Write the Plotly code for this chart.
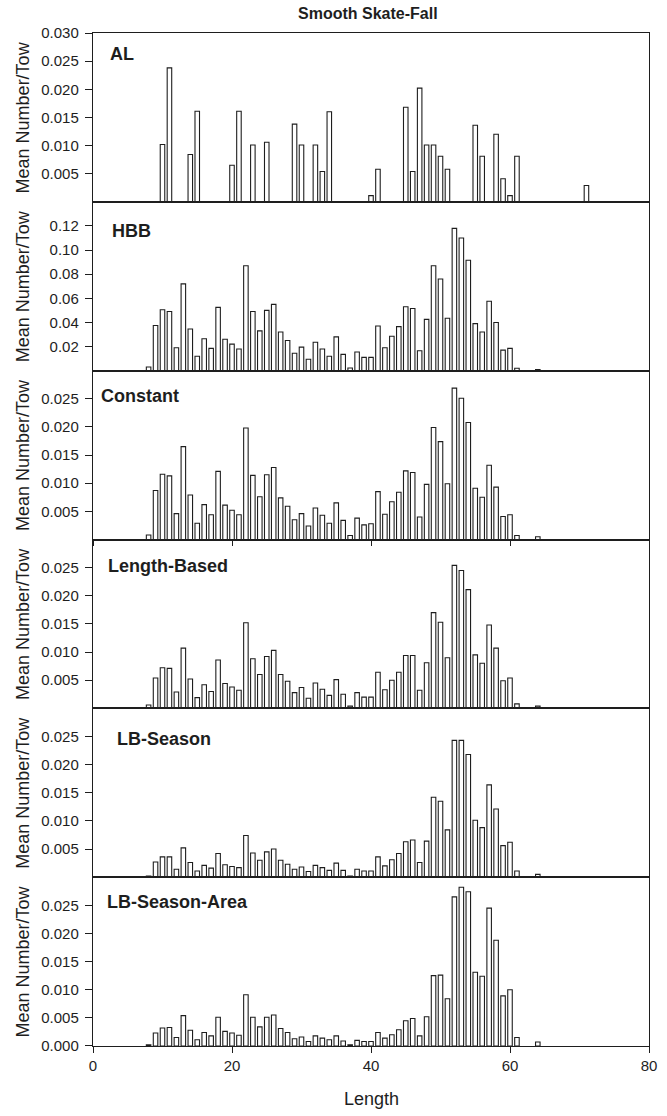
import plotly.graph_objects as go

# ---------------- data ----------------
al_lengths = [10, 11, 14, 15, 20, 21, 23, 25, 29, 30, 32, 33, 34, 40, 41, 45, 46, 47,
              48, 49, 50, 51, 55, 56, 58, 59, 60, 61, 71]
al_values = [0.0102, 0.0238, 0.0084, 0.0161, 0.0065, 0.0161, 0.0101, 0.0106, 0.0138,
             0.0101, 0.0101, 0.0054, 0.0160, 0.0011, 0.0058, 0.0168, 0.0054, 0.0202,
             0.0101, 0.0101, 0.0081, 0.0058, 0.0136, 0.0081, 0.0120, 0.0041, 0.0011,
             0.0081, 0.0029]

lengths = list(range(8, 62)) + [64]

hbb = [0.003, 0.0375, 0.0505, 0.049, 0.019, 0.072, 0.0345, 0.012, 0.0265, 0.0185,
       0.0525, 0.026, 0.022, 0.018, 0.087, 0.049, 0.033, 0.050, 0.055, 0.032,
       0.025, 0.0145, 0.0195, 0.0095, 0.0235, 0.018, 0.012, 0.028, 0.0135, 0.0022,
       0.0155, 0.011, 0.011, 0.037, 0.019, 0.0285, 0.0365, 0.053, 0.0515, 0.0165,
       0.0425, 0.087, 0.076, 0.0435, 0.118, 0.110, 0.0915, 0.039, 0.032, 0.0575,
       0.040, 0.017, 0.0185, 0.002,
       0.001]

constant = [0.0008, 0.0087, 0.0116, 0.0113, 0.0046, 0.0165, 0.0079, 0.0029, 0.0062, 0.0044,
            0.0121, 0.0061, 0.0052, 0.0044, 0.0198, 0.0114, 0.0076, 0.0115, 0.0128, 0.0074,
            0.0059, 0.0035, 0.0046, 0.0024, 0.0056, 0.0043, 0.0029, 0.0065, 0.0034, 0.0007,
            0.0038, 0.0026, 0.0028, 0.0085, 0.0045, 0.0067, 0.0084, 0.0122, 0.0119, 0.0040,
            0.0098, 0.0199, 0.0174, 0.0099, 0.0269, 0.0251, 0.0208, 0.0091, 0.0075, 0.0132,
            0.0093, 0.0041, 0.0044, 0.0007,
            0.0005]

length_based = [0.0006, 0.0054, 0.0072, 0.0071, 0.0029, 0.0107, 0.0052, 0.0019, 0.0042, 0.0030,
                0.0086, 0.0044, 0.0038, 0.0032, 0.0152, 0.0088, 0.0060, 0.0092, 0.0103, 0.0060,
                0.0048, 0.0028, 0.0037, 0.0018, 0.0045, 0.0034, 0.0023, 0.0051, 0.0025, 0.0004,
                0.0028, 0.0020, 0.0020, 0.0064, 0.0033, 0.0050, 0.0064, 0.0094, 0.0094, 0.0032,
                0.0081, 0.0170, 0.0153, 0.0090, 0.0254, 0.0245, 0.0211, 0.0095, 0.0080, 0.0148,
                0.0107, 0.0049, 0.0054, 0.0008,
                0.0004]

lb_season = [0.0002, 0.0027, 0.0036, 0.0036, 0.0014, 0.0052, 0.0026, 0.0011, 0.0021, 0.0016,
             0.0042, 0.0022, 0.0019, 0.0017, 0.0074, 0.0043, 0.0030, 0.0045, 0.0050, 0.0030,
             0.0023, 0.0014, 0.0018, 0.0010, 0.0021, 0.0017, 0.0012, 0.0025, 0.0012, 0.0002,
             0.0014, 0.0011, 0.0011, 0.0036, 0.0020, 0.0031, 0.0042, 0.0063, 0.0066, 0.0026,
             0.0064, 0.0142, 0.0135, 0.0084, 0.0243, 0.0243, 0.0218, 0.0101, 0.0088, 0.0164,
             0.0121, 0.0056, 0.0062, 0.0011,
             0.0005]

lb_season_area = [0.0002, 0.0023, 0.0032, 0.0033, 0.0015, 0.0054, 0.0028, 0.0011, 0.0024, 0.0018,
                  0.0051, 0.0026, 0.0023, 0.0019, 0.0091, 0.0051, 0.0034, 0.0051, 0.0055, 0.0031,
                  0.0024, 0.0013, 0.0016, 0.0008, 0.0018, 0.0014, 0.0011, 0.0018, 0.0009, 0.0002,
                  0.0010, 0.0008, 0.0008, 0.0024, 0.0014, 0.0020, 0.0029, 0.0045, 0.0049, 0.0018,
                  0.0052, 0.0125, 0.0126, 0.0084, 0.0265, 0.0282, 0.0274, 0.0131, 0.0124, 0.0245,
                  0.0188, 0.0089, 0.0100, 0.0015,
                  0.0007]

panel_names = ["AL", "HBB", "Constant", "Length-Based", "LB-Season", "LB-Season-Area"]
x_ticks = [0, 20, 40, 60, 80]
y_ticks_al = [0.005, 0.010, 0.015, 0.020, 0.025, 0.030]
y_ticks_hbb = [0.02, 0.04, 0.06, 0.08, 0.10, 0.12]
y_ticks_mid = [0.005, 0.010, 0.015, 0.020, 0.025]
y_ticks_bottom = [0.000, 0.005, 0.010, 0.015, 0.020, 0.025]

# ---------------- figure ----------------
FONT = "Liberation Sans, Arial, sans-serif"
INK = "#1e1e1e"
ML, MR, MT, MB = 93, 10, 33, 70
W, H = 667, 1116
W_PLOT = W - ML - MR
PLOT_H = H - MT - MB

panels = [
    (al_lengths, al_values, [0, 0.030], y_ticks_al, ".3f"),
    (lengths, hbb, [0, 0.14], y_ticks_hbb, ".2f"),
    (lengths, constant, [0, 0.030], y_ticks_mid, ".3f"),
    (lengths, length_based, [0, 0.030], y_ticks_mid, ".3f"),
    (lengths, lb_season, [0, 0.030], y_ticks_mid, ".3f"),
    (lengths, lb_season_area, [0, 0.030], y_ticks_bottom, ".3f"),
]

# label placement (x in data units, y as fraction of panel height from bottom)
label_pos = [(2.13, 0.878), (2.41, 0.830), (0.92, 0.850), (1.84, 0.843), (3.19, 0.820), (1.76, 0.850)]

fig = go.Figure()
n = len(panels)
layout = {}
annotations = []

for i, (xs, ys, yr, yt, yf) in enumerate(panels):
    k = "" if i == 0 else str(i + 1)
    xa, ya = "x" + k, "y" + k
    fig.add_trace(go.Bar(
        x=xs, y=ys, xaxis=xa, yaxis=ya, width=0.65,
        marker=dict(color="white", line=dict(color=INK, width=1.1)),
        showlegend=False, hoverinfo="x+y",
    ))
    top = 1 - i / n
    bot = 1 - (i + 1) / n
    is_bottom = i == n - 1
    layout["xaxis" + k] = dict(
        domain=[0, 1], anchor=ya, range=[0, 80],
        showline=True, mirror=True, linecolor=INK, linewidth=1.4,
        showgrid=False, zeroline=False,
        tickvals=x_ticks,
        ticks="outside" if (is_bottom or i == 2) else "",
        ticklen=6 if is_bottom else 5, tickwidth=1.3, tickcolor=INK,
        showticklabels=is_bottom, ticklabeloverflow="allow",
        tickfont=dict(family=FONT, size=15, color=INK),
    )
    if i > 0:
        layout["xaxis" + k]["matches"] = "x"
    layout["yaxis" + k] = dict(
        domain=[bot, top], anchor=xa, range=yr,
        showline=True, mirror=True, linecolor=INK, linewidth=1.4,
        showgrid=False, zeroline=False,
        tickvals=yt, tickformat=yf,
        ticks="outside", ticklen=7, tickwidth=1.3, tickcolor=INK,
        ticklabelstandoff=3,
        tickfont=dict(family=FONT, size=15, color=INK),
    )
    lx, ly = label_pos[i]
    annotations.append(dict(
        text="<b>" + panel_names[i] + "</b>", xref=xa, yref=ya + " domain",
        x=lx, y=ly, xanchor="left", yanchor="middle", showarrow=False,
        font=dict(family=FONT, size=18, color=INK),
    ))
    annotations.append(dict(
        text="Mean Number/Tow", xref="paper", yref="paper",
        x=(22 - ML) / W_PLOT, y=(top + bot) / 2, textangle=-90,
        xanchor="center", yanchor="middle", showarrow=False,
        font=dict(family=FONT, size=18, color=INK),
    ))

annotations.append(dict(
    text="<b>Smooth Skate-Fall</b>", xref="paper", yref="paper",
    x=(372 - ML) / W_PLOT, y=(H - MB - 14) / PLOT_H, xanchor="center", yanchor="middle",
    showarrow=False, font=dict(family=FONT, size=16, color=INK),
))
annotations.append(dict(
    text="Length", xref="paper", yref="paper",
    x=(376 - ML) / W_PLOT, y=(H - MB - 1099) / PLOT_H, xanchor="center", yanchor="middle",
    showarrow=False, font=dict(family=FONT, size=18, color=INK),
))

fig.update_layout(
    width=W, height=H, autosize=False,
    margin=dict(l=ML, r=MR, t=MT, b=MB),
    paper_bgcolor="white", plot_bgcolor="white",
    annotations=annotations,
    font=dict(family=FONT, color=INK),
    **layout,
)

fig.write_html(
    "out.html",
    config={"displayModeBar": False},
    post_script="document.body.style.margin='0px';document.body.style.padding='0px';",
)
